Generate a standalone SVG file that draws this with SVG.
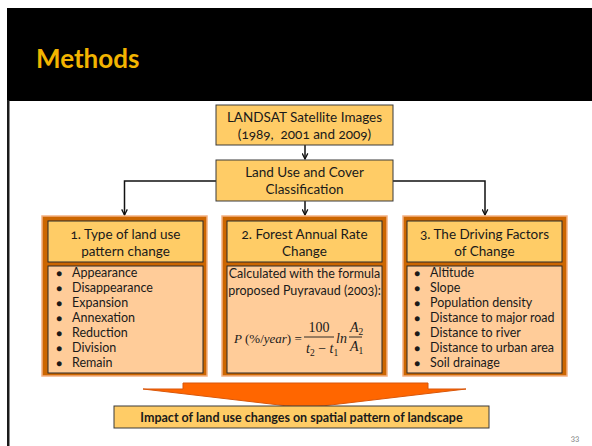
<svg xmlns="http://www.w3.org/2000/svg" width="592" height="446" viewBox="0 0 592 446">
  <style>
    text { font-family: Lato, "Open Sans", "Liberation Sans", sans-serif; fill: #1a1a1a; font-variant-numeric: oldstyle-nums; }
    .title { font-size: 26px; font-weight: bold; fill: #F2B400; }
    .lbl { font-size: 13.5px; text-anchor: middle; white-space: pre; }
    .item { font-size: 12.5px; }
    .dot { font-size: 10px; }
    .math { font-family: "Liberation Serif", "DejaVu Serif", serif; font-style: italic; font-size: 14px; font-variant-numeric: normal; }
    .mnum { font-family: "Liberation Serif", "DejaVu Serif", serif; font-size: 14px; font-variant-numeric: normal; }
    .msub { font-family: "Liberation Serif", "DejaVu Serif", serif; font-size: 9.5px; }
    .step { fill: #FFCC66; stroke: #3a3a3a; stroke-width: 1; }
    .frame { fill: #CC6600; stroke: #F4B183; stroke-width: 1.5; }
    .head { fill: #FFCC66; stroke: #2a2a2a; stroke-width: 1; }
    .body { fill: #FFCC99; stroke: #2a2a2a; stroke-width: 1; }
    .wire { fill: none; stroke: #111; stroke-width: 1.5; }
  </style>
  <defs>
    <marker id="arrow" viewBox="0 0 10 10" refX="9" refY="5" markerWidth="7" markerHeight="7" orient="auto" markerUnits="userSpaceOnUse">
      <polyline points="1,1 9,5 1,9" fill="none" stroke="#111" stroke-width="1.8"/>
    </marker>
  </defs>

  <rect x="0" y="0" width="592" height="446" fill="#ffffff"/>
  <!-- title bar -->
  <rect x="7" y="8" width="585" height="93" fill="#000000"/>
  <rect x="7" y="100" width="2.5" height="346" fill="#1a1a1a"/>
  <text class="title" x="36" y="68">Methods</text>

  <!-- connectors -->
  <g id="connectors">
    <path class="wire" d="M305,145 V159" marker-end="url(#arrow)"/>
    <path class="wire" d="M305,201 V215" marker-end="url(#arrow)"/>
    <path class="wire" d="M216,181 H124.5 V215" marker-end="url(#arrow)"/>
    <path class="wire" d="M393,181 H485 V215" marker-end="url(#arrow)"/>
  </g>

  <g id="landsat">
    <rect class="step" x="216" y="105" width="177" height="40"/>
    <text class="lbl" x="304.5" y="122">LANDSAT Satellite Images</text>
    <text class="lbl" x="304.5" y="139">(1989,  2001 and 2009)</text>
  </g>

  <g id="classification">
    <rect class="step" x="216" y="160" width="177" height="41"/>
    <text class="lbl" x="304.5" y="177">Land Use and Cover</text>
    <text class="lbl" x="304.5" y="194">Classification</text>
  </g>

  <g id="pattern-change">
    <rect class="frame" x="42" y="216" width="165" height="160"/>
    <rect class="head" x="48" y="221" width="155" height="41"/>
    <rect class="body" x="48" y="266" width="155" height="107"/>
    <text class="lbl" x="125.5" y="239">1. Type of land use</text>
    <text class="lbl" x="125.5" y="256">pattern change</text>
    <g class="item">
      <text class="dot" x="56" y="277">●</text><text x="72" y="277">Appearance</text>
      <text class="dot" x="56" y="292">●</text><text x="72" y="292">Disappearance</text>
      <text class="dot" x="56" y="306.5">●</text><text x="72" y="306.5">Expansion</text>
      <text class="dot" x="56" y="321.5">●</text><text x="72" y="321.5">Annexation</text>
      <text class="dot" x="56" y="336.5">●</text><text x="72" y="336.5">Reduction</text>
      <text class="dot" x="56" y="351.5">●</text><text x="72" y="351.5">Division</text>
      <text class="dot" x="56" y="366.5">●</text><text x="72" y="366.5">Remain</text>
    </g>
  </g>

  <g id="forest-rate">
    <rect class="frame" x="222" y="216" width="165" height="160"/>
    <rect class="head" x="227" y="221" width="155" height="41"/>
    <rect class="body" x="227" y="266" width="155" height="107"/>
    <text class="lbl" x="304.5" y="239">2. Forest Annual Rate</text>
    <text class="lbl" x="304.5" y="256">Change</text>
    <text class="lbl" x="304.5" y="278" style="font-size:12.5px">Calculated with the formula</text>
    <text class="lbl" x="304.5" y="295" style="font-size:12.5px">proposed Puyravaud (2003):</text>
    <!-- P(%/year) = 100/(t2 - t1) ln A2/A1 -->
    <text class="math" x="234" y="343" style="font-size:13px">P <tspan font-style="normal">(%/</tspan>year<tspan font-style="normal">) =</tspan></text>
    <text class="mnum" x="319" y="332" text-anchor="middle">100</text>
    <line x1="304" y1="337" x2="334" y2="337" stroke="#1a1a1a" stroke-width="0.9"/>
    <text class="math" x="306" y="353">t<tspan class="msub" font-style="normal" dy="3">2</tspan><tspan font-style="normal" dy="-3"> − </tspan>t<tspan class="msub" font-style="normal" dy="3">1</tspan></text>
    <text class="math" x="336" y="343">ln</text>
    <text class="math" x="350" y="332">A<tspan class="msub" font-style="normal" dy="3">2</tspan></text>
    <line x1="349" y1="337" x2="362" y2="337" stroke="#1a1a1a" stroke-width="0.9"/>
    <text class="math" x="350" y="351">A<tspan class="msub" font-style="normal" dy="3">1</tspan></text>
  </g>

  <g id="driving-factors">
    <rect class="frame" x="403" y="216" width="164" height="160"/>
    <rect class="head" x="407" y="221" width="155" height="41"/>
    <rect class="body" x="407" y="266" width="155" height="107"/>
    <text class="lbl" x="484.5" y="239">3. The Driving Factors</text>
    <text class="lbl" x="484.5" y="256">of Change</text>
    <g class="item">
      <text class="dot" x="414" y="277">●</text><text x="430" y="277">Altitude</text>
      <text class="dot" x="414" y="292">●</text><text x="430" y="292">Slope</text>
      <text class="dot" x="414" y="306.5">●</text><text x="430" y="306.5">Population density</text>
      <text class="dot" x="414" y="321.5">●</text><text x="430" y="321.5">Distance to major road</text>
      <text class="dot" x="414" y="336.5">●</text><text x="430" y="336.5">Distance to river</text>
      <text class="dot" x="414" y="351.5">●</text><text x="430" y="351.5">Distance to urban area</text>
      <text class="dot" x="414" y="366.5">●</text><text x="430" y="366.5">Soil drainage</text>
    </g>
  </g>

  <g id="merge-arrow">
    <polygon points="183,383 428,383 428,389 466,389 305,408 143,389 183,389" fill="#FF6600" stroke="#D9570A" stroke-width="1"/>
  </g>

  <g id="impact">
    <rect class="step" x="114" y="406" width="375" height="22"/>
    <text x="301.5" y="421.5" text-anchor="middle" style="font-size:12.5px;font-weight:bold">Impact of land use changes on spatial pattern of landscape</text>
  </g>

  <text x="575" y="441" text-anchor="middle" style="font-size:8px;fill:#777">33</text>
</svg>
